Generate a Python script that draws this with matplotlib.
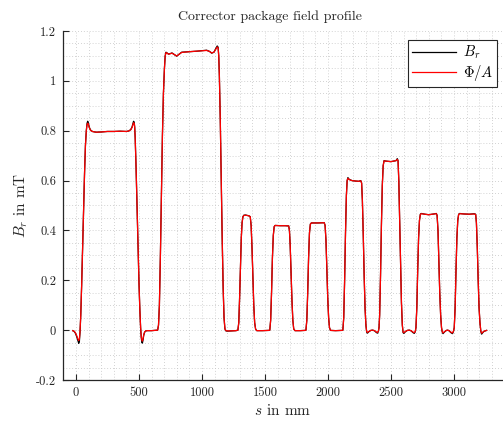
import matplotlib
matplotlib.use("Agg")
import matplotlib.pyplot as plt
from matplotlib.ticker import MultipleLocator

plt.rcParams['font.family'] = ['cmr10', 'DejaVu Serif']
plt.rcParams['mathtext.fontset'] = 'cm'
plt.rcParams['axes.unicode_minus'] = False

# ---- data ----
s_mm = [
    -26, -15, -5, 5, 15, 22, 27, 32, 38, 45, 52, 60, 68, 75, 82, 88, 93, 98, 105, 115,
    130, 160, 200, 250, 300, 350, 400, 420, 435, 445, 452, 457, 462, 466, 470, 477, 485, 493, 500, 507,
    513, 518, 523, 527, 532, 538, 545, 555, 565, 600, 630,
    648, 655, 662, 670, 678, 686, 694, 702, 708, 714, 720, 735, 762, 799, 839, 900, 960, 1037, 1060, 1077,
    1095, 1110, 1121, 1128, 1133, 1138, 1145, 1152, 1160, 1168, 1175, 1182, 1190, 1200, 1230, 1270,
    1285, 1292, 1298, 1305, 1312, 1318, 1325, 1332, 1345, 1360, 1375, 1383, 1390, 1397, 1404, 1411,
    1418, 1426, 1435, 1480, 1530,
    1538, 1545, 1552, 1559, 1566, 1573, 1580, 1620, 1660, 1688, 1694, 1700, 1707, 1714, 1721, 1728,
    1738, 1780, 1818,
    1825, 1832, 1839, 1846, 1853, 1860, 1868, 1920, 1970, 1977, 1984, 1991, 1998, 2005, 2012, 2020,
    2060, 2110,
    2118, 2125, 2132, 2139, 2146, 2152, 2158, 2168, 2190, 2220, 2245, 2260, 2267, 2273, 2280, 2287,
    2294, 2301, 2307, 2313, 2325, 2340, 2355, 2370, 2385, 2393, 2400, 2405,
    2410, 2417, 2424, 2431, 2438, 2445, 2460, 2500, 2540, 2550, 2556, 2562, 2569, 2576, 2583, 2590,
    2596, 2602, 2615, 2630, 2645, 2660, 2675, 2685, 2693,
    2698, 2705, 2712, 2719, 2726, 2733, 2740, 2770, 2800, 2840, 2860, 2866, 2873, 2880, 2887, 2894,
    2901, 2907, 2913, 2925, 2940, 2950, 2962, 2975, 2988, 2996,
    3002, 3009, 3016, 3023, 3030, 3037, 3045, 3080, 3120, 3160, 3172, 3178, 3185, 3192, 3199, 3206,
    3213, 3219, 3225, 3235, 3247, 3259,
]

B_r = [
    -0.002, -0.005, -0.012, -0.025, -0.042, -0.053, -0.045, -0.01, 0.06, 0.18, 0.32, 0.48, 0.63, 0.74, 0.80, 0.83, 0.838, 0.832, 0.815, 0.803,
    0.797, 0.794, 0.795, 0.797, 0.797, 0.798, 0.797, 0.799, 0.805, 0.815, 0.828, 0.838, 0.834, 0.815, 0.77, 0.65, 0.49, 0.33, 0.19, 0.08,
    0.01, -0.03, -0.05, -0.052, -0.04, -0.02, -0.008, -0.003, -0.002, -0.002, -0.001,
    0.0, 0.02, 0.1, 0.3, 0.55, 0.78, 0.95, 1.05, 1.10, 1.115, 1.113, 1.107, 1.112, 1.099, 1.115, 1.117, 1.119, 1.123, 1.118, 1.111,
    1.115, 1.13, 1.140, 1.135, 1.10, 1.02, 0.85, 0.62, 0.38, 0.17, 0.05, 0.005, -0.003, -0.004, -0.003, -0.002,
    0.0, 0.03, 0.12, 0.25, 0.37, 0.43, 0.455, 0.461, 0.462, 0.46, 0.458, 0.455, 0.42, 0.33, 0.21, 0.1,
    0.03, 0.003, -0.002, -0.002, -0.001,
    0.0, 0.04, 0.15, 0.29, 0.38, 0.415, 0.42, 0.419, 0.419, 0.418, 0.40, 0.34, 0.23, 0.12, 0.04, 0.005,
    -0.002, -0.002, -0.001,
    0.0, 0.04, 0.15, 0.29, 0.39, 0.425, 0.43, 0.43, 0.431, 0.42, 0.36, 0.25, 0.13, 0.05, 0.01, -0.001,
    -0.002, -0.001,
    0.0, 0.05, 0.2, 0.39, 0.54, 0.6, 0.612, 0.605, 0.6, 0.598, 0.597, 0.6, 0.59, 0.52, 0.38, 0.22,
    0.09, 0.02, -0.008, -0.012, -0.006, -0.001, 0.0, -0.003, -0.01, -0.012, -0.005, 0.01,
    0.06, 0.22, 0.42, 0.58, 0.66, 0.68, 0.678, 0.676, 0.68, 0.688, 0.68, 0.6, 0.44, 0.26, 0.11, 0.02,
    -0.01, -0.013, -0.006, -0.001, 0.0, -0.003, -0.01, -0.013, -0.006,
    0.01, 0.09, 0.24, 0.37, 0.44, 0.465, 0.468, 0.465, 0.463, 0.466, 0.468, 0.46, 0.40, 0.28, 0.15, 0.06,
    0.01, -0.008, -0.014, -0.007, -0.001, 0.0, -0.003, -0.01, -0.014, -0.005,
    0.01, 0.09, 0.24, 0.37, 0.44, 0.465, 0.468, 0.466, 0.465, 0.467, 0.465, 0.43, 0.33, 0.2, 0.09, 0.03,
    -0.005, -0.016, -0.012, -0.006, -0.003, -0.001,
]

Phi_A = [
    -0.002, -0.004, -0.010, -0.021, -0.035, -0.042, -0.036, -0.005, 0.06, 0.18, 0.32, 0.48, 0.63, 0.74, 0.80, 0.825, 0.830, 0.827, 0.813, 0.802,
    0.797, 0.794, 0.795, 0.797, 0.797, 0.798, 0.797, 0.799, 0.804, 0.813, 0.824, 0.832, 0.830, 0.813, 0.77, 0.65, 0.49, 0.33, 0.19, 0.08,
    0.01, -0.025, -0.040, -0.044, -0.035, -0.018, -0.007, -0.003, -0.002, -0.002, -0.001,
    0.0, 0.02, 0.1, 0.3, 0.55, 0.78, 0.95, 1.05, 1.10, 1.113, 1.112, 1.107, 1.111, 1.100, 1.114, 1.117, 1.119, 1.122, 1.118, 1.112,
    1.115, 1.127, 1.136, 1.132, 1.10, 1.02, 0.85, 0.62, 0.38, 0.17, 0.05, 0.005, -0.002, -0.003, -0.003, -0.002,
    0.0, 0.03, 0.12, 0.25, 0.37, 0.43, 0.455, 0.460, 0.461, 0.46, 0.458, 0.455, 0.42, 0.33, 0.21, 0.1,
    0.03, 0.003, -0.002, -0.002, -0.001,
    0.0, 0.04, 0.15, 0.29, 0.38, 0.415, 0.42, 0.419, 0.419, 0.418, 0.40, 0.34, 0.23, 0.12, 0.04, 0.005,
    -0.002, -0.002, -0.001,
    0.0, 0.04, 0.15, 0.29, 0.39, 0.425, 0.43, 0.43, 0.431, 0.42, 0.36, 0.25, 0.13, 0.05, 0.01, -0.001,
    -0.002, -0.001,
    0.0, 0.05, 0.2, 0.39, 0.54, 0.6, 0.609, 0.604, 0.6, 0.598, 0.597, 0.599, 0.59, 0.52, 0.38, 0.22,
    0.09, 0.02, -0.006, -0.009, -0.005, -0.001, 0.0, -0.002, -0.008, -0.009, -0.004, 0.01,
    0.06, 0.22, 0.42, 0.58, 0.66, 0.679, 0.678, 0.676, 0.68, 0.685, 0.679, 0.6, 0.44, 0.26, 0.11, 0.02,
    -0.008, -0.010, -0.005, -0.001, 0.0, -0.002, -0.008, -0.010, -0.005,
    0.01, 0.09, 0.24, 0.37, 0.44, 0.464, 0.467, 0.465, 0.463, 0.466, 0.467, 0.46, 0.40, 0.28, 0.15, 0.06,
    0.01, -0.006, -0.011, -0.006, -0.001, 0.0, -0.002, -0.008, -0.011, -0.004,
    0.01, 0.09, 0.24, 0.37, 0.44, 0.464, 0.467, 0.466, 0.465, 0.466, 0.464, 0.43, 0.33, 0.2, 0.09, 0.03,
    -0.004, -0.012, -0.010, -0.005, -0.003, -0.001,
]

x_ticks = [0, 500, 1000, 1500, 2000, 2500, 3000]
x_tick_labels = ['0', '500', '1000', '1500', '2000', '2500', '3000']
y_ticks = [-0.2, 0, 0.2, 0.4, 0.6, 0.8, 1.0, 1.2]
y_tick_labels = ['-0.2', '0', '0.2', '0.4', '0.6', '0.8', '1', '1.2']

fig = plt.figure(figsize=(5.03, 4.21), dpi=100)
ax = fig.add_axes([63 / 503, 1 - 380 / 421, (502 - 63) / 503, (380 - 31) / 421])

ax.plot(s_mm, B_r, color='black', lw=0.9, label=r'$B_r$')
ax.plot(s_mm, Phi_A, color='red', lw=0.9, label=r'$\Phi/A$')

ax.set_xlim(-103, 3381)
ax.set_ylim(-0.2, 1.2)
ax.set_xticks(x_ticks)
ax.set_xticklabels(x_tick_labels)
ax.set_yticks(y_ticks)
ax.set_yticklabels(y_tick_labels)
ax.xaxis.set_minor_locator(MultipleLocator(100))
ax.yaxis.set_minor_locator(MultipleLocator(0.05))

spine_col = '#262626'
for side in ['top', 'right']:
    ax.spines[side].set_visible(False)
for side in ['left', 'bottom']:
    ax.spines[side].set_color(spine_col)
    ax.spines[side].set_linewidth(0.9)
ax.tick_params(which='major', direction='in', length=4, width=0.8, color=spine_col,
               labelsize=9, labelcolor='#262626', pad=5)
ax.tick_params(which='minor', length=0)
ax.grid(which='both', linestyle=(0, (1, 2.5)), color='#c4c4c4', linewidth=0.6)
ax.set_axisbelow(True)

ax.set_title('Corrector package field profile', fontsize=10, x=0.4715, pad=8, color='#262626')
ax.set_xlabel(r'$s$ in mm', fontsize=11, color='#262626', labelpad=3)
ax.set_ylabel(r'$B_r$ in mT', fontsize=11, color='#262626', labelpad=4)

leg = ax.legend(loc='upper right', bbox_to_anchor=(0.9886, 0.974), fontsize=10.5,
                frameon=True, fancybox=False, framealpha=1, edgecolor='#262626',
                handlelength=3.0, borderpad=0.25, labelspacing=0.12, handletextpad=0.5,
                borderaxespad=0.0)
leg.get_frame().set_linewidth(0.8)

fig.savefig('out.png', dpi=100)
